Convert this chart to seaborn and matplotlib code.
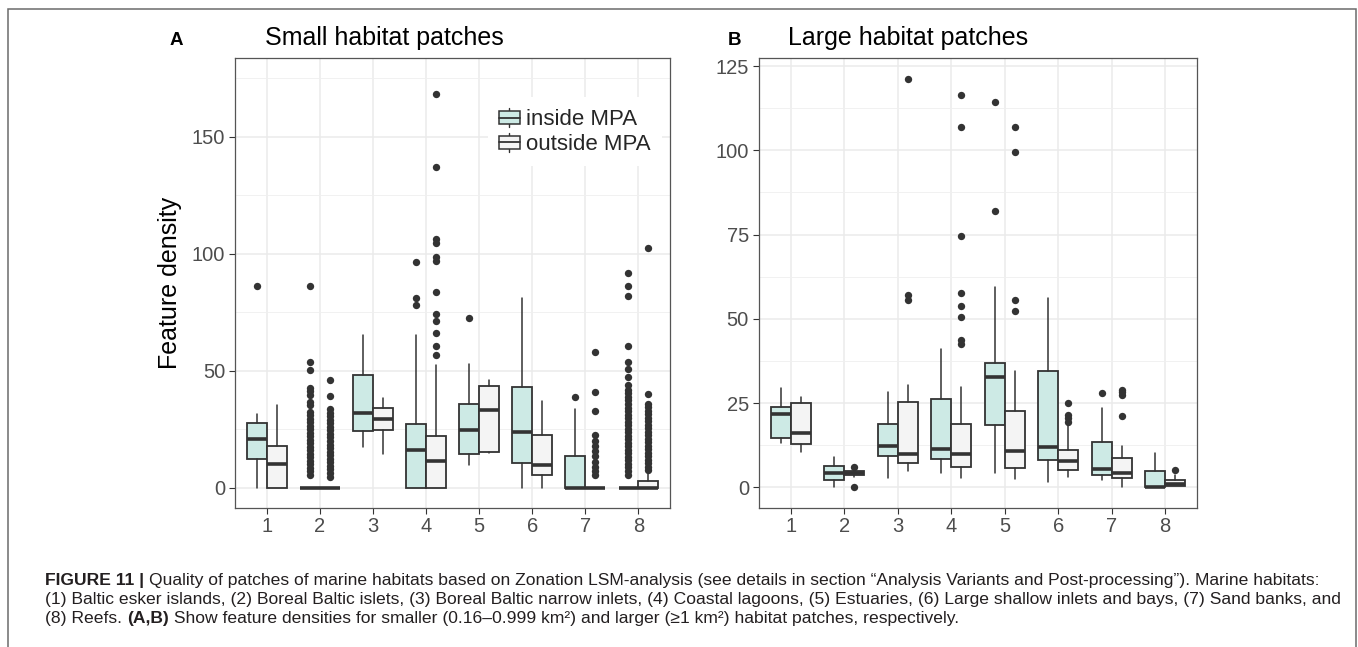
import matplotlib
matplotlib.use("Agg")
import matplotlib.pyplot as plt
from matplotlib.patches import Rectangle
from matplotlib.lines import Line2D
from matplotlib.legend_handler import HandlerBase
from matplotlib.ticker import MultipleLocator
import seaborn as sns
import pandas as pd

# ---------------- data ----------------
categories = ["1", "2", "3", "4", "5", "6", "7", "8"]
groups = ["inside MPA", "outside MPA"]

# Panel A: small habitat patches
small_in_lo = [0, 0, 17.3, 0, 9.7, 0, 0, 0]
small_in_q1 = [12.1, 0, 24.4, 0, 14.5, 10.8, 0, 0]
small_in_med = [20.8, 0, 31.8, 16.2, 24.5, 23.9, 0, 0]
small_in_q3 = [27.5, 0, 48.3, 27.4, 35.6, 43.2, 13.7, 0]
small_in_hi = [31.4, 0, 65.3, 65.3, 52.7, 81.0, 33.5, 0]
small_in_fliers = [
    [86.1],
    [86.1, 53.8, 50.3, 42.6, 41.2, 39.6, 36.8, 35.3, 32.5, 31.0, 29.5, 28.0,
     26.5, 25.0, 23.5, 22.0, 20.5, 19.0, 17.5, 16.0, 14.5, 13.0, 11.5, 10.0,
     8.5, 7.0, 5.4],
    [],
    [96.6, 81.3, 78.1],
    [72.6],
    [],
    [38.6],
    [91.6, 86.3, 82.0, 60.7, 53.9, 50.6, 47.2, 43.9, 41.8, 40.3, 38.8, 37.3,
     35.8, 34.3, 32.8, 31.3, 29.8, 28.3, 26.8, 25.3, 23.8, 22.3, 20.8, 19.3,
     17.8, 16.3, 14.8, 13.3, 11.8, 10.3, 8.8, 7.3, 5.4],
]
small_out_lo = [0, 0, 14.4, 0, 14.8, 0, 0, 0]
small_out_q1 = [0, 0, 24.7, 0, 15.1, 5.6, 0, 0]
small_out_med = [10.3, 0, 29.5, 11.3, 33.1, 9.8, 0, 0]
small_out_q3 = [18.0, 0, 33.9, 22.2, 43.5, 22.5, 0, 2.9]
small_out_hi = [35.3, 0, 38.2, 52.4, 46.0, 37.0, 0, 5.7]
small_out_fliers = [
    [],
    [46.0, 39.2, 33.5, 32.0, 30.5, 29.0, 27.5, 26.0, 24.5, 23.0, 21.5, 20.0,
     18.5, 17.0, 15.5, 14.0, 12.5, 11.0, 9.5, 8.0, 6.5, 4.7],
    [],
    [168.2, 137.2, 106.3, 104.4, 98.7, 96.9, 83.5, 74.2, 71.2, 66.0, 60.6, 56.7],
    [],
    [],
    [58.1, 40.9, 32.7, 22.5, 20.2, 18.0, 15.8, 13.5, 11.2, 9.0, 7.0, 5.4],
    [102.3, 40.0, 36.0, 34.5, 33.0, 31.5, 30.0, 28.5, 27.0, 25.5, 24.0, 22.5,
     21.0, 19.5, 18.0, 16.5, 15.0, 13.5, 12.0, 10.5, 9.0, 7.6],
]

# Panel B: large habitat patches
large_in_lo = [13.1, 0, 2.8, 4.3, 4.4, 1.5, 2.3, 0]
large_in_q1 = [14.6, 2.1, 9.4, 8.4, 18.5, 8.1, 3.8, 0]
large_in_med = [21.9, 4.3, 12.2, 11.5, 32.7, 12.1, 5.5, 0]
large_in_q3 = [23.8, 6.5, 18.7, 26.2, 36.8, 34.5, 13.4, 5.0]
large_in_hi = [29.4, 8.9, 28.3, 41.1, 59.5, 56.1, 23.5, 10.2]
large_in_fliers = [[], [], [], [], [114.3, 82.1], [], [28.0], []]
large_out_lo = [10.4, 3.2, 4.9, 2.9, 2.4, 3.0, 0, 0.3]
large_out_q1 = [12.9, 3.7, 7.3, 6.1, 5.8, 5.3, 2.8, 0.5]
large_out_med = [16.3, 4.4, 9.9, 10.0, 10.7, 7.9, 4.4, 1.0]
large_out_q3 = [25.0, 5.0, 25.4, 18.8, 22.8, 11.0, 8.8, 2.1]
large_out_hi = [26.8, 5.6, 30.5, 29.7, 34.6, 18.5, 12.4, 3.8]
large_out_fliers = [
    [],
    [6.2, 0.0],
    [121.3, 57.1, 55.7],
    [116.5, 106.8, 74.6, 57.8, 53.9, 50.6, 43.7, 42.6],
    [106.8, 99.5, 55.7, 52.2],
    [25.2, 21.6, 20.6, 19.5],
    [29.0, 28.2, 27.3, 21.1],
    [5.2],
]

panel_titles = ["Small habitat patches", "Large habitat patches"]
panel_letters = ["A", "B"]
y_label = "Feature density"
caption_lines = [
    [("FIGURE 11 | ", True),
     ("Quality of patches of marine habitats based on Zonation LSM-analysis (see details in section "
      "\u201cAnalysis Variants and Post-processing\u201d). Marine habitats:", False)],
    [("(1) Baltic esker islands, (2) Boreal Baltic islets, (3) Boreal Baltic narrow inlets, "
      "(4) Coastal lagoons, (5) Estuaries, (6) Large shallow inlets and bays, (7) Sand banks, and", False)],
    [("(8) Reefs. ", False), ("(A,B)", True),
     (" Show feature densities for smaller (0.16\u20130.999 km\u00b2) and larger (\u22651 km\u00b2) "
      "habitat patches, respectively.", False)],
]

# ---------------- style ----------------
sns.set_theme(style="white")
plt.rcParams["font.family"] = ["Liberation Sans", "DejaVu Sans"]

W, H = 1358, 647
fig = plt.figure(figsize=(W / 100, H / 100), dpi=100)
fig.patch.set_facecolor("white")

FILL = {"inside MPA": "#CDEAE5", "outside MPA": "#F4F4F4"}
EDGE = "#333333"


def px_axes(x0, y0, x1, y1):
    return fig.add_axes([x0 / W, 1 - y1 / H, (x1 - x0) / W, (y1 - y0) / H])


def make_stats(lo, q1, med, q3, hi):
    return [dict(whislo=a, q1=b, med=c, q3=d, whishi=e, fliers=[])
            for a, b, c, d, e in zip(lo, q1, med, q3, hi)]


def draw_panel(ax, series, ylim, major, minor):
    ax.set_axisbelow(True)
    ax.set_xlim(0.4, 8.6)
    ax.set_ylim(*ylim)
    ax.yaxis.set_major_locator(MultipleLocator(major))
    ax.yaxis.set_minor_locator(MultipleLocator(minor))
    ax.set_xticks(range(1, 9))
    ax.set_xticklabels(categories)
    ax.grid(True, which="major", color="#EBEBEB", linewidth=1.1)
    ax.grid(True, which="minor", axis="y", color="#EFEFEF", linewidth=0.6)
    ax.tick_params(which="major", length=4, width=0.8, color="#333333",
                   labelsize=14.5, labelcolor="#4D4D4D", pad=3, left=True, bottom=True)
    ax.tick_params(which="minor", length=0)
    for sp in ax.spines.values():
        sp.set_color("#555555")
        sp.set_linewidth(0.9)
    rows = []
    for gi, (grp, (lo, q1, med, q3, hi, fl)) in enumerate(zip(groups, series)):
        offset = -0.1875 if gi == 0 else 0.1875
        pos = [i + 1 + offset for i in range(len(categories))]
        ax.bxp(make_stats(lo, q1, med, q3, hi), positions=pos, widths=0.375,
               patch_artist=True, showcaps=False, showfliers=False, manage_ticks=False,
               boxprops=dict(facecolor=FILL[grp], edgecolor=EDGE, linewidth=1.3),
               medianprops=dict(color=EDGE, linewidth=2.6, solid_capstyle="butt"),
               whiskerprops=dict(color=EDGE, linewidth=1.1))
        for p, vals in zip(pos, fl):
            for v in vals:
                rows.append({"x": p, "y": v})
    df = pd.DataFrame(rows)
    sns.scatterplot(data=df, x="x", y="y", ax=ax, color="#333333", s=28,
                    linewidth=0, legend=False, zorder=3)
    ax.set_xlabel("")
    ax.set_ylabel("")


axA = px_axes(235, 58.3, 670.3, 507.7)
axB = px_axes(758.7, 58.3, 1197.3, 507.7)

draw_panel(axA, [
    (small_in_lo, small_in_q1, small_in_med, small_in_q3, small_in_hi, small_in_fliers),
    (small_out_lo, small_out_q1, small_out_med, small_out_q3, small_out_hi, small_out_fliers),
], (-8.5, 183.5), 50, 25)
draw_panel(axB, [
    (large_in_lo, large_in_q1, large_in_med, large_in_q3, large_in_hi, large_in_fliers),
    (large_out_lo, large_out_q1, large_out_med, large_out_q3, large_out_hi, large_out_fliers),
], (-6.0, 127.3), 25, 12.5)


# legend with boxplot glyphs
class BoxGlyph(HandlerBase):
    def create_artists(self, legend, orig_handle, xdescent, ydescent, width, height,
                       fontsize, trans):
        x0, y0 = -xdescent, -ydescent
        rect = Rectangle((x0, y0 + 0.16 * height), width, 0.68 * height,
                         facecolor=orig_handle.get_facecolor(), edgecolor=EDGE,
                         linewidth=1.1, transform=trans)
        wl = Line2D([x0 + width / 2] * 2, [y0, y0 + height], color=EDGE,
                    linewidth=1.0, transform=trans)
        md = Line2D([x0, x0 + width], [y0 + height / 2] * 2, color=EDGE,
                    linewidth=1.3, transform=trans)
        return [wl, rect, md]


handles = [Rectangle((0, 0), 1, 1, facecolor=FILL[g]) for g in groups]
leg = axA.legend(handles, groups, handler_map={Rectangle: BoxGlyph()},
                 loc="upper left",
                 bbox_to_anchor=((488 - 235) / 435.3, (507.7 - 97) / 449.4),
                 fontsize=16, handlelength=0.93, handleheight=0.95,
                 handletextpad=0.3, labelspacing=0.1, borderpad=0.5,
                 frameon=True, fancybox=False, framealpha=1, borderaxespad=0)
leg.get_frame().set_facecolor("white")
leg.get_frame().set_edgecolor("none")

# titles, panel letters, y label
for (x_t, x_l), title, letter in zip([(265, 169.5), (788, 727.5)], panel_titles, panel_letters):
    fig.text(x_t / W, 1 - 45 / H, title, fontsize=18, ha="left", va="baseline", color="black")
    fig.text(x_l / W, 1 - 45 / H, letter, fontsize=13.5, fontweight="bold",
             ha="left", va="baseline", color="black")
fig.text(170 / W, 1 - 283 / H, y_label, fontsize=18, rotation=90,
         ha="center", va="center", color="black")

# outer frame
fig.patches.append(Rectangle((8 / W, -0.01), (1355.5 - 8) / W, 1 - 8.5 / H + 0.01,
                             transform=fig.transFigure, fill=False,
                             edgecolor="#6b6b6b", linewidth=1.1))

# caption, fitted to width
renderer = fig.canvas.get_renderer()
CAP_COL = "#231F20"


def seg_width(txt, bold, size):
    w = "bold" if bold else "normal"
    t1 = fig.text(0, 0, "x" + txt + "x", fontsize=size, fontweight=w)
    t2 = fig.text(0, 0, "xx", fontsize=size, fontweight=w)
    a = t1.get_window_extent(renderer).width
    b = t2.get_window_extent(renderer).width
    t1.remove()
    t2.remove()
    return a - b


base = 12.0
widest = max(sum(seg_width(t, b, base) for t, b in line) for line in caption_lines)
cap_size = base * (1300.0 / widest)
baselines = [584.5, 604.0, 623.5]
for line, yb in zip(caption_lines, baselines):
    x = 45.0
    for txt, bold in line:
        fig.text(x / W, 1 - yb / H, txt, fontsize=cap_size,
                 fontweight="bold" if bold else "normal",
                 ha="left", va="baseline", color=CAP_COL)
        x += seg_width(txt, bold, cap_size)

fig.savefig("out.png", dpi=100, facecolor="white")
